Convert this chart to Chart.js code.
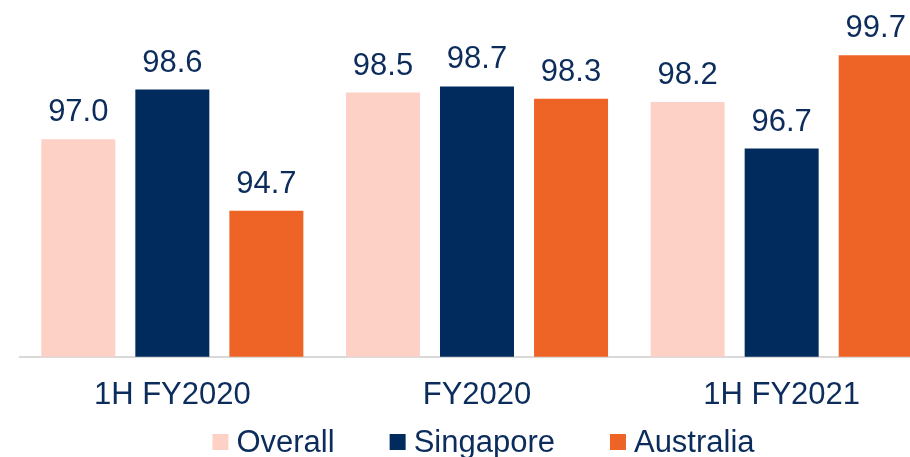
<!DOCTYPE html>
<html>
<head>
<meta charset="utf-8">
<script src="https://cdn.jsdelivr.net/npm/chart.js@4.4.0/dist/chart.umd.min.js"></script>
<style>
    html, body { margin: 0; padding: 0; background: #fff; overflow: hidden; }
    #wrap { width: 940px; height: 457px; position: relative; }
</style>
</head>
<body>
<div id="wrap"><canvas id="chartOcupacao"></canvas></div>
<script>
var periodos = ['1H FY2020', 'FY2020', '1H FY2021']
var overall = [97.0, 98.5, 98.2]
var singapore = [98.6, 98.7, 96.7]
var australia = [94.7, 98.3, 99.7]
var nomesSeries = ['Overall', 'Singapore', 'Australia']
var cores = ['#FDD1C6', '#002B5C', '#EE6427']
var corTexto = '#0C2C5C'
var fonte = "'Liberation Sans', Arial, sans-serif"

const canvasOcupacao = document.getElementById('chartOcupacao');

// rotulos de valor acima das barras
const rotulosBarras = {
    id: 'rotulosBarras',
    afterDatasetsDraw(chart) {
        const ctx = chart.ctx
        ctx.save()
        ctx.font = '31px ' + fonte
        ctx.fillStyle = corTexto
        ctx.textAlign = 'center'
        ctx.textBaseline = 'alphabetic'
        chart.data.datasets.forEach((ds, i) => {
            chart.getDatasetMeta(i).data.forEach((bar, j) => {
                ctx.fillText(ds.data[j].toFixed(1), bar.x, bar.y - 18)
            })
        })
        ctx.restore()
    }
}

// legenda desenhada a mao (espacamento do original)
const legendaBaixo = {
    id: 'legendaBaixo',
    afterDraw(chart) {
        const ctx = chart.ctx
        ctx.save()
        ctx.font = '31px ' + fonte
        ctx.textBaseline = 'middle'
        ctx.textAlign = 'left'
        let caixa = 16, gapTexto = 8, gapItem = 55
        let larguras = nomesSeries.map(n => ctx.measureText(n).width)
        let total = larguras.reduce((a, b) => a + b, 0) + nomesSeries.length * (caixa + gapTexto) + (nomesSeries.length - 1) * gapItem
        let x = 483.5 - total / 2
        let y = 442
        nomesSeries.forEach((nome, i) => {
            ctx.fillStyle = cores[i]
            ctx.fillRect(x, y - caixa / 2, caixa, caixa)
            ctx.fillStyle = corTexto
            ctx.fillText(nome, x + caixa + gapTexto, y + 1)
            x += caixa + gapTexto + larguras[i] + gapItem
        })
        ctx.restore()
    }
}

new Chart(canvasOcupacao, {
    type: 'bar',
    data: {
        labels: periodos,
        datasets: [
            { label: nomesSeries[0], data: overall, backgroundColor: cores[0] },
            { label: nomesSeries[1], data: singapore, backgroundColor: cores[1] },
            { label: nomesSeries[2], data: australia, backgroundColor: cores[2] }
        ]
    },
    options: {
        responsive: true,
        maintainAspectRatio: false,
        animation: false,
        datasets: {
            bar: {
                barPercentage: 0.787,
                categoryPercentage: 0.926
            }
        },
        layout: {
            padding: { top: 46, left: 20, right: 6, bottom: 23 }
        },
        plugins: {
            legend: { display: false },
            tooltip: { enabled: false }
        },
        scales: {
            y: {
                display: false,
                min: 90,
                max: 100
            },
            x: {
                grid: { display: false, drawTicks: false },
                border: { display: true, color: '#D9D9D9', width: 2 },
                ticks: {
                    color: corTexto,
                    padding: 20,
                    font: { family: fonte, size: 31 }
                }
            }
        }
    },
    plugins: [rotulosBarras, legendaBaixo]
})
</script>
</body>
</html>
